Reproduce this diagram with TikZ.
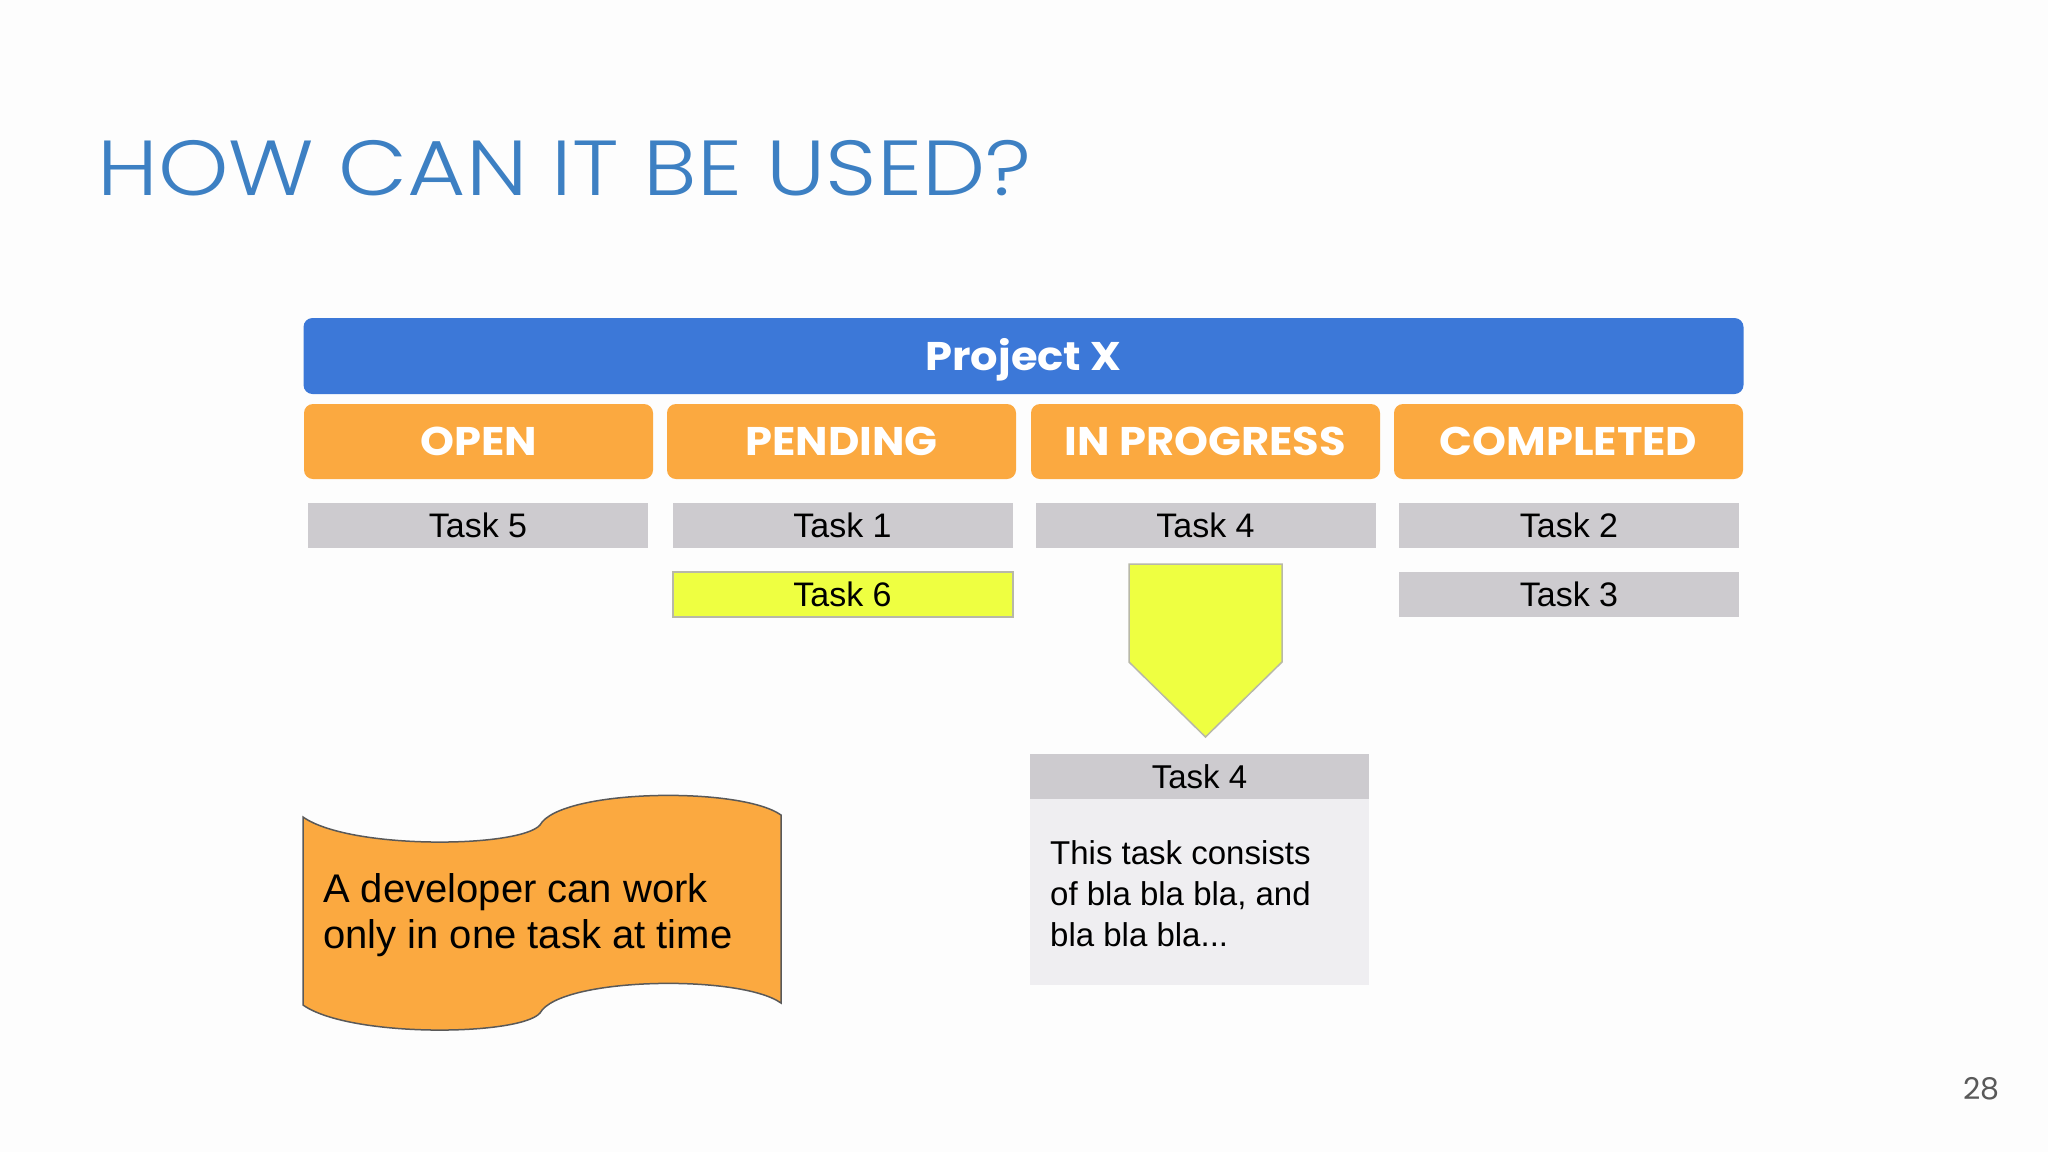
\documentclass[tikz,border=0pt]{standalone}
\usepackage{fontspec}
\setmainfont{Liberation Sans}
\newfontfamily\headfont{Poppins}[FakeStretch=1.08]
\newfontfamily\numfont{Poppins}
\newfontfamily\titlefont{Poppins Light}[FakeStretch=1.148]
\usepackage{tikz}

\definecolor{pagebg}{HTML}{FDFDFD}
\definecolor{titleblue}{HTML}{3D80C3}
\definecolor{projblue}{HTML}{3C78D8}
\definecolor{headorange}{HTML}{FBA940}
\definecolor{taskgray}{HTML}{CDCBCF}
\definecolor{bodygray}{HTML}{EFEEF1}
\definecolor{limefill}{HTML}{EEFF41}
\definecolor{limeedge}{HTML}{B8B8A8}
\definecolor{bannerline}{HTML}{595959}
\definecolor{numgray}{HTML}{595959}

\begin{document}
\begin{tikzpicture}[x=1pt,y=-1pt]
\fill[pagebg] (0,0) rectangle (2048,1152);
\useasboundingbox (0,0) rectangle (2048,1152);

\node[anchor=base west, inner sep=0, text=titleblue, font=\titlefont\fontsize{78}{90}\selectfont] (title) at (97,195) {HOW CAN IT BE USED?};

\begin{scope}[every node/.style={rounded corners=9pt, text=white, inner sep=0, text height=28pt, text depth=0pt, font=\headfont\bfseries\fontsize{40}{48}\selectfont}]
    \node[fill=projblue, minimum width=1440pt, minimum height=76pt] (proj) at (1023.5, 356) {Project X};

    \node[fill=headorange, minimum width=349pt, minimum height=75pt] (open) at (478.5, 441.5) {OPEN};
    \node[fill=headorange, minimum width=349pt, minimum height=75pt] (pending) at (841.5, 441.5) {PENDING};
    \node[fill=headorange, minimum width=349pt, minimum height=75pt] (progress) at (1205.5, 441.5) {IN PROGRESS};
    \node[fill=headorange, minimum width=349pt, minimum height=75pt] (completed) at (1568.5, 441.5) {COMPLETED};
\end{scope}

\begin{scope}[every node/.style={fill=taskgray, minimum width=340pt, minimum height=45pt, inner sep=0, text height=24pt, text depth=0pt, font=\fontsize{34}{40}\selectfont}]
    \node (t5) at (478, 525.5) {Task 5};
    \node (t1) at (842.5, 525.5) {Task 1};
    \node (t4) at (1205.5, 525.5) {Task 4};
    \node (t2) at (1569, 525.5) {Task 2};

    \node[fill=limefill, draw=limeedge, line width=2pt] (t6) at (842.5, 594.5) {Task 6};
    \node (t3) at (1569, 594.5) {Task 3};
\end{scope}

% arrow down to the task card
\draw[fill=limefill, draw=limeedge, line width=1.5pt] (1129,564) -- (1282,564) -- (1282,662) -- (1205.5,737) -- (1129,662) -- cycle;

\begin{scope}[every node/.style={minimum width=339pt, inner sep=0}]
    \node[fill=taskgray, minimum height=45pt, text height=23pt, text depth=0pt, font=\fontsize{33}{40}\selectfont] (cardhead) at (1199.5, 776.5) {Task 4};
    \node[fill=bodygray, minimum height=186pt] (cardbody) at (1199.5, 892) {};
\end{scope}
\node[anchor=base west, inner sep=0, align=left, font=\fontsize{33}{41}\selectfont] (cardtext) at (1050, 946) {This task consists\\of bla bla bla, and\\bla bla bla...};

% wave banner
\draw[fill=headorange, draw=bannerline, line width=1.5pt]
    (303,817) .. controls (350,850) and (520,848) .. (540,825)
    .. controls (560,789) and (740,786) .. (781,815)
    -- (781,1003)
    .. controls (740,974) and (560,977) .. (540,1013)
    .. controls (520,1036) and (350,1038) .. (303,1005) -- cycle;
\node[anchor=base west, inner sep=0, align=left, font=\fontsize{40}{46}\selectfont] (note) at (323, 948) {A developer can work\\only in one task at time};

\node[anchor=base east, inner sep=0, text=numgray, font=\numfont\fontsize{30}{36}\selectfont] (pagenum) at (2000, 1099) {28};

\end{tikzpicture}
\end{document}
